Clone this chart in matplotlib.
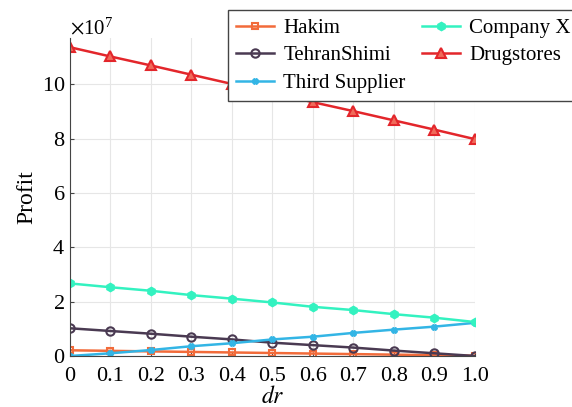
import numpy as np
import matplotlib.pyplot as plt

plt.rcParams["font.family"] = ["Liberation Serif", "DejaVu Serif"]
plt.rcParams["mathtext.fontset"] = "stix"

dr = [0.0, 0.1, 0.2, 0.3, 0.4, 0.5, 0.6, 0.7, 0.8, 0.9, 1.0]
hakim = [0.21, 0.19, 0.17, 0.15, 0.13, 0.11, 0.09, 0.07, 0.05, 0.03, 0.01]
tehranshimi = [1.02, 0.92, 0.82, 0.71, 0.61, 0.49, 0.40, 0.31, 0.20, 0.10, 0.0]
third_supplier = [0.0, 0.10, 0.22, 0.36, 0.47, 0.61, 0.71, 0.85, 0.97, 1.08, 1.22]
company_x = [2.67, 2.53, 2.40, 2.24, 2.11, 1.97, 1.81, 1.69, 1.54, 1.41, 1.25]
drugstores = [11.36, 11.02, 10.69, 10.35, 10.01, 9.68, 9.34, 9.01, 8.67, 8.33, 7.98]
scale = 1e7

fig = plt.figure(figsize=(5.72, 4.07), dpi=100)
ax = fig.add_axes([0.1224, 0.1253, 0.7076, 0.7813])

ax.plot(dr, np.array(hakim) * scale, color="#F26B3A", lw=1.8, marker="s", ms=4,
        mfc="none", mew=1.5, label="Hakim")
ax.plot(dr, np.array(tehranshimi) * scale, color="#4A3A52", lw=1.8, marker="o", ms=6,
        mfc="none", mew=1.5, label="TehranShimi")
ax.plot(dr, np.array(third_supplier) * scale, color="#33B5E5", lw=1.8, marker="X", ms=4,
        label="Third Supplier")
ax.plot(dr, np.array(company_x) * scale, color="#33F2C0", lw=1.8, marker="h", ms=6,
        label="Company X")
ax.plot(dr, np.array(drugstores) * scale, color="#E3262B", lw=1.8, marker="^", ms=6.5,
        mfc="#F06A5A", mew=1.5, label="Drugstores")

ax.set_xlim(0, 1.0)
ax.set_ylim(0, 11.7e7)
ax.set_xticks(dr)
ax.set_xticklabels(["0"] + ["%.1f" % v for v in dr[1:]])
ax.set_yticks(np.arange(0, 11e7, 2e7))
ax.ticklabel_format(axis="y", style="sci", scilimits=(7, 7), useMathText=True)
ax.yaxis.get_offset_text().set_fontsize(15)

ax.tick_params(labelsize=16, direction="in", length=3, color="#444444")
ax.tick_params(axis="x", pad=8)
ax.grid(True, color="#e6e6e6", linewidth=0.8)
ax.set_axisbelow(True)
for s in ["top", "right"]:
    ax.spines[s].set_visible(False)
for s in ["left", "bottom"]:
    ax.spines[s].set_color("#444444")

ax.set_xlabel("$dr$", fontsize=17, labelpad=0)
ax.set_ylabel("Profit", fontsize=17, labelpad=3)

leg = fig.legend(loc="upper left", bbox_to_anchor=(228 / 572, 1 - 10 / 407), ncol=2,
                 fontsize=15, frameon=True, fancybox=False, framealpha=1,
                 edgecolor="#444444", handlelength=1.8, columnspacing=0.8,
                 labelspacing=0.38, borderpad=0.4, handletextpad=0.45,
                 borderaxespad=0)
leg.get_frame().set_linewidth(1.0)

fig.savefig("out.png", dpi=100)
